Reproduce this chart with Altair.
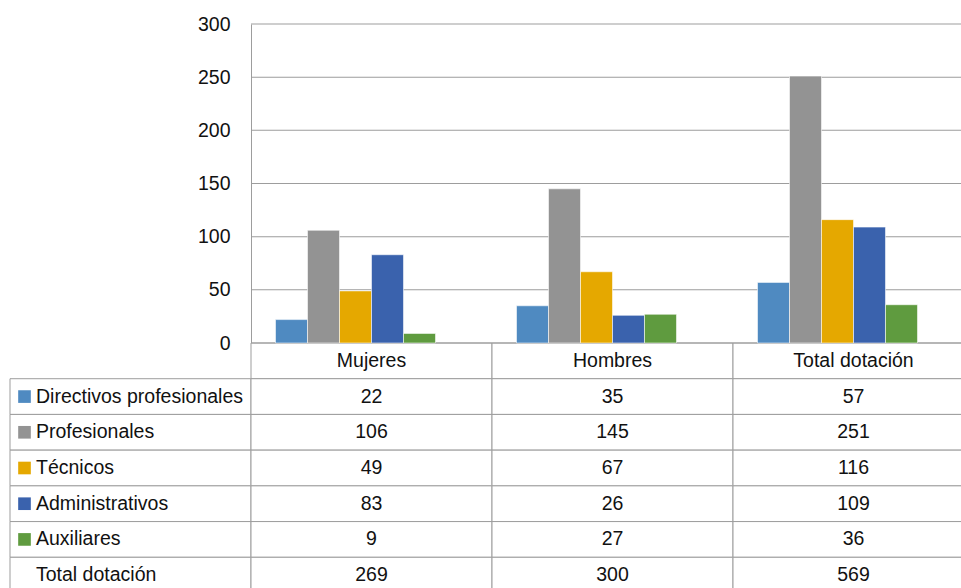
import altair as alt
import pandas as pd

# Staff counts by job category, split by sex, with an Excel-style data table
categorias = ["Mujeres", "Hombres", "Total dotación"]
series = ["Directivos profesionales", "Profesionales", "Técnicos",
          "Administrativos", "Auxiliares"]
directivos = [22, 35, 57]
profesionales = [106, 145, 251]
tecnicos = [49, 67, 116]
administrativos = [83, 26, 109]
auxiliares = [9, 27, 36]
total_dotacion = [269, 300, 569]
colores = ["#4F8AC1", "#939393", "#E5A800", "#3A62AD", "#5F9B3F"]
ticks_y = [0, 50, 100, 150, 200, 250, 300]

FONT = "'Liberation Sans Narrow', 'Arial Narrow', 'Liberation Sans', Arial, sans-serif"
FS = 19.5
LINE = "#9d9d9d"
INK = "#111111"

# geometry of the figure (plot-area pixels)
BAND = 241            # width of every table column
BAR_H = 319           # height of the bar panel (0..300)
ROW_H = 250 / 7       # height of every table row
LABEL_COL = "Serie"   # key of the row-label column on the left
HEADER = " "          # key of the header row of the table

valores = [directivos, profesionales, tecnicos, administrativos, auxiliares]
filas = [HEADER] + series + ["Total dotación"]
columnas = [LABEL_COL] + categorias

bars_df = pd.DataFrame([
    {"col": c, "row": s, "value": v}
    for s, vals in zip(series, valores) for c, v in zip(categorias, vals)
])
grid_df = pd.DataFrame([{"col": c, "value": t} for t in ticks_y for c in categorias])

cells_df = pd.DataFrame([
    {"col": c, "row": r} for r in filas for c in columnas
    if not (c == LABEL_COL and r == HEADER)
])
center_text_df = pd.DataFrame(
    [{"col": c, "row": HEADER, "text": c} for c in categorias]
    + [{"col": c, "row": s, "text": str(v)}
       for s, vals in zip(series + ["Total dotación"], valores + [total_dotacion])
       for c, v in zip(categorias, vals)]
)
label_df = pd.DataFrame([{"col": LABEL_COL, "row": r, "text": r}
                         for r in series + ["Total dotación"]])
swatch_df = pd.DataFrame([{"col": LABEL_COL, "row": s} for s in series])

x_scale = alt.Scale(domain=columnas, range=[0, BAND * len(columnas)],
                    paddingInner=0, paddingOuter=0)
y_bar = alt.Scale(domain=[0, 300], range=[BAR_H, 0], nice=False)
y_tab = alt.Scale(domain=filas, range=[BAR_H, BAR_H + ROW_H * len(filas)],
                  paddingInner=0, paddingOuter=0)
color_scale = alt.Scale(domain=series, range=colores)

bar_axis = alt.Axis(values=ticks_y, grid=False, ticks=False, domain=True,
                    domainColor=LINE, domainWidth=1, labelPadding=21,
                    offset=-BAND, title=None, labelFont=FONT,
                    labelFontSize=FS, labelColor=INK)

x_enc = alt.X("col:N", scale=x_scale, axis=None)

grid = alt.Chart(grid_df).mark_tick(
    size=BAND, thickness=1, color=LINE, orient="horizontal", opacity=1
).encode(x=x_enc, y=alt.Y("value:Q", scale=y_bar, axis=bar_axis))

bars = alt.Chart(bars_df).mark_bar(
    stroke="white", strokeWidth=0.8, strokeOpacity=0.7
).encode(
    x=x_enc,
    xOffset=alt.XOffset("row:N", scale=alt.Scale(domain=series + ["Total dotación"],
                                                 paddingInner=0, paddingOuter=0.766)),
    y=alt.Y("value:Q", scale=y_bar, axis=bar_axis),
    color=alt.Color("row:N", scale=color_scale, legend=None),
)

y_tab_enc = alt.Y("row:N", scale=y_tab, axis=None)

cells = alt.Chart(cells_df).mark_rect(
    fill="white", stroke=LINE, strokeWidth=1
).encode(x=x_enc, y=y_tab_enc)

center_text = alt.Chart(center_text_df).mark_text(
    font=FONT, fontSize=FS, color=INK, align="center", baseline="middle"
).encode(x=x_enc, y=y_tab_enc, text="text:N")

labels = alt.Chart(label_df).mark_text(
    font=FONT, fontSize=FS, color=INK, align="left", baseline="middle", dx=26
).encode(x=alt.X("col:N", scale=x_scale, axis=None, bandPosition=0),
         y=y_tab_enc, text="text:N")

swatches = alt.Chart(swatch_df).mark_square(size=160, opacity=1).encode(
    x=alt.X("col:N", scale=x_scale, axis=None, bandPosition=14.5 / BAND),
    y=y_tab_enc,
    color=alt.Color("row:N", scale=color_scale, legend=None),
)

bar_block = alt.layer(grid, bars)
table_block = alt.layer(cells, center_text, labels, swatches)

chart = alt.layer(table_block, bar_block).resolve_scale(
    y="independent"
).properties(
    width=951, height=564,
    background="white",
    padding={"left": 10, "top": 24, "right": 0, "bottom": 0},
    autosize=alt.AutoSizeParams(type="none"),
).configure_view(strokeWidth=0, stroke="transparent")

chart.save("out.html", embed_options={"renderer": "svg", "actions": False})
